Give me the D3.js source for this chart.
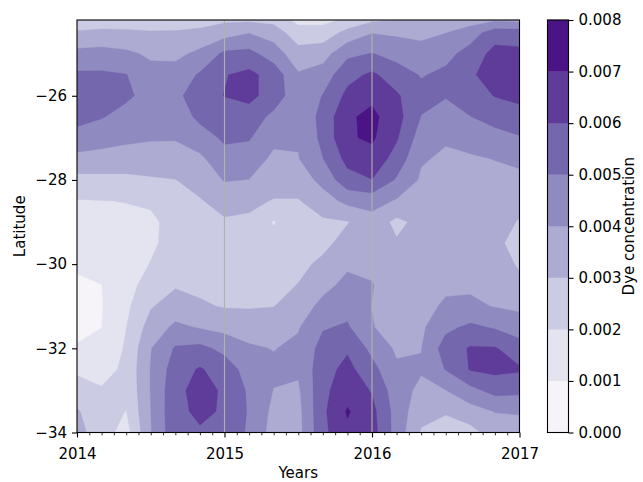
<!DOCTYPE html>
<html>
<head>
<meta charset="utf-8">
<script src="https://cdn.jsdelivr.net/npm/d3@7"></script>
<style>
  body { margin: 0; background: #fff; }
  svg { display: block; }
  text { font-family: "DejaVu Sans", sans-serif; fill: #000; }
</style>
</head>
<body>
<svg id="chart" width="643" height="482"></svg>
<script>
// Sample times (months after January 2014) and latitudes of the gridded field
const sampleMonths = [0, 2, 4, 6, 8, 10, 12, 14, 16, 18, 20, 22, 24, 26, 28, 30, 32, 34, 36];
const sampleLats = [-24, -24.5, -25, -25.5, -26, -26.5, -27, -27.5, -28, -28.5, -29,
                    -29.5, -30, -30.5, -31, -31.5, -32, -32.5, -33, -33.5, -34];

// Dye concentration (x 1e-3); one row per latitude (north to south), one column per time
const dyeRows = [
  [1.9, 2.0, 2.0, 2.0, 2.0, 1.9, 2.33, 2.05, 2.1, 1.3, 1.2, 1.6, 2.05, 2.45, 3.05, 3.1, 2.8, 2.75, 2.5],
  [3.11, 3.21, 3.18, 3.09, 3.11, 3.29, 3.56, 3.96, 3.56, 2.4, 2.44, 3.3, 3.96, 3.84, 3.75, 3.98, 4.55, 5.5, 5.51],
  [4.29, 4.37, 4.19, 3.84, 3.77, 4.22, 5.21, 5.3, 4.49, 3.4, 3.57, 4.79, 5.04, 4.64, 4.38, 4.71, 5.37, 6.35, 6.24],
  [5.15, 5.15, 5.03, 4.32, 4.38, 5.12, 5.95, 6.25, 5.6, 4.1, 4.46, 5.68, 6.17, 5.49, 4.93, 5.21, 5.87, 6.42, 6.44],
  [5.58, 5.45, 5.15, 4.7, 4.71, 5.64, 6.02, 6.25, 5.6, 4.3, 5.04, 6.25, 6.78, 6.13, 5.3, 5.06, 5.51, 6.04, 6.18],
  [5.27, 5.06, 4.69, 4.39, 4.39, 5.25, 5.6, 5.59, 4.73, 4.25, 5.3, 6.85, 7.25, 6.39, 4.97, 4.6, 4.98, 5.35, 5.73],
  [4.7, 4.41, 4.21, 4.09, 4.07, 4.53, 5.17, 5.08, 4.24, 4.1, 5.25, 6.88, 7.16, 6.11, 4.53, 4.1, 4.3, 4.66, 4.91],
  [3.67, 3.62, 3.55, 3.54, 3.56, 3.8, 4.64, 4.54, 3.79, 3.95, 4.97, 6.3, 6.62, 5.62, 4.09, 3.85, 3.9, 4.02, 4.25],
  [2.72, 2.74, 2.77, 2.89, 2.98, 3.34, 4.06, 3.98, 3.37, 3.44, 4.31, 5.63, 5.98, 4.89, 3.86, 3.66, 3.72, 3.78, 3.71],
  [1.94, 1.98, 2.02, 2.19, 2.73, 2.93, 3.34, 3.19, 2.95, 2.94, 3.54, 4.27, 4.4, 3.9, 3.69, 3.46, 3.55, 3.56, 3.24],
  [1.68, 1.78, 1.84, 1.75, 2.45, 2.7, 2.89, 2.85, 1.93, 2.7, 2.85, 2.95, 3.6, 2.75, 3.3, 3.27, 3.37, 3.34, 2.94],
  [1.41, 1.57, 1.67, 1.82, 2.4, 2.48, 2.67, 2.66, 2.3, 2.5, 2.75, 3.35, 3.5, 3.1, 3.36, 3.35, 3.43, 3.12, 2.81],
  [1.1, 1.3, 1.5, 2.04, 2.65, 2.56, 2.54, 2.54, 2.5, 2.76, 3.2, 3.84, 3.8, 3.3, 3.4, 3.58, 3.63, 3.36, 2.91],
  [0.88, 0.99, 1.59, 2.48, 2.91, 2.8, 2.74, 2.74, 2.7, 3.03, 3.71, 4.27, 4.05, 3.4, 3.54, 3.82, 3.84, 3.66, 3.18],
  [0.81, 0.95, 1.79, 2.92, 3.44, 3.12, 2.94, 2.93, 2.98, 3.48, 4.28, 4.66, 3.98, 3.5, 3.68, 4.15, 4.2, 3.95, 3.8],
  [0.85, 0.99, 1.99, 3.43, 4.2, 3.93, 3.67, 3.48, 3.48, 3.92, 4.92, 5.12, 4.05, 3.6, 3.83, 4.77, 5.2, 4.91, 4.53],
  [1.05, 1.25, 2.11, 3.96, 5.1, 5.25, 4.74, 4.15, 3.96, 4.22, 5.35, 5.87, 4.73, 3.85, 3.97, 5.47, 6.09, 6.08, 5.42],
  [1.81, 1.6, 2.22, 4.05, 5.5, 6.1, 5.5, 4.6, 4.2, 4.15, 5.6, 6.3, 5.33, 4.15, 4.1, 5.05, 6.07, 6.24, 6.12],
  [2.47, 2.1, 2.16, 4.05, 5.7, 6.4, 5.85, 4.85, 3.97, 3.85, 5.75, 6.6, 5.93, 4.45, 3.76, 3.98, 4.7, 5.33, 5.24],
  [3.1, 2.35, 1.98, 4.0, 5.75, 6.19, 5.9, 4.9, 3.75, 3.7, 5.8, 7.1, 6.3, 4.6, 3.32, 3.06, 3.6, 4.03, 4.1],
  [3.35, 2.45, 1.6, 3.95, 5.7, 5.9, 5.7, 4.85, 3.6, 3.65, 5.75, 6.8, 6.4, 4.6, 2.9, 2.7, 2.65, 3.5, 3.5]
];

// Contour levels / colour bar ticks, axis ticks and reference years
const levelTicks = [0, 0.001, 0.002, 0.003, 0.004, 0.005, 0.006, 0.007, 0.008];
const yearTicks = [2014, 2015, 2016, 2017];
const latTicks = [-34, -32, -30, -28, -26];
const markerYears = [2015, 2016];

// Purples, one shade per band between consecutive levels
const bandColors = ["#f6f4f9", "#e4e3f0", "#cbcbe3", "#adabd2",
                    "#8f8bc1", "#7567ae", "#5f3c99", "#4a1486"];

const svg = d3.select("#chart");
const W = 643, H = 482;
svg.append("rect").attr("width", W).attr("height", H).attr("fill", "#fff");

const plot = { left: 77, right: 519.5, top: 20, bottom: 432.5 };
const fontSize = 15;
const tickLen = 5, tickPad = 5;

const x = d3.scaleLinear().domain([2014, 2017]).range([plot.left, plot.right]);
const y = d3.scaleLinear().domain([-34, -24.2]).range([plot.bottom, plot.top]);

// ---- filled contours ----
const nx = sampleMonths.length, ny = sampleLats.length;
const values = dyeRows.flat().map(v => v / 1000);
const thresholds = levelTicks.slice(0, -1);
const bands = d3.contours().size([nx, ny]).thresholds(thresholds)(values);

// grid index -> data coordinates (d3.contours puts sample i at i + 0.5)
const idxToYear = d3.scaleLinear().domain([0, nx - 1])
  .range([2014 + sampleMonths[0] / 12, 2014 + sampleMonths[nx - 1] / 12]);
const idxToLat = d3.scaleLinear().domain([0, ny - 1])
  .range([sampleLats[0], sampleLats[ny - 1]]);
const toScreen = d3.geoTransform({
  point(px, py) { this.stream.point(x(idxToYear(px - 0.5)), y(idxToLat(py - 0.5))); }
});
const path = d3.geoPath(toScreen);

svg.append("clipPath").attr("id", "plot-clip")
  .append("rect")
  .attr("x", plot.left).attr("y", plot.top)
  .attr("width", plot.right - plot.left).attr("height", plot.bottom - plot.top);

const field = svg.append("g").attr("clip-path", "url(#plot-clip)");
field.selectAll("path.band")
  .data(bands)
  .join("path")
  .attr("class", "band")
  .attr("d", path)
  .attr("fill", (d, i) => bandColors[i])
  .attr("stroke", (d, i) => bandColors[i])
  .attr("stroke-width", 0.3);

// vertical year markers
field.selectAll("line.marker")
  .data(markerYears)
  .join("line")
  .attr("class", "marker")
  .attr("x1", d => x(d)).attr("x2", d => x(d))
  .attr("y1", plot.top).attr("y2", plot.bottom)
  .attr("stroke", "#b2b2a8")
  .attr("stroke-width", 1.1);

// ---- axes ----
const xAxis = svg.append("g")
  .attr("transform", `translate(0,${plot.bottom})`)
  .call(d3.axisBottom(x).tickValues(yearTicks).tickFormat(d3.format("d"))
    .tickSize(tickLen).tickPadding(tickPad).tickSizeOuter(0));
xAxis.select(".domain").remove();
xAxis.selectAll("text").attr("dy", null).attr("y", 26.5).style("font-size", fontSize + "px");
xAxis.selectAll("line").attr("stroke", "#000").attr("stroke-width", 1.1);

const monthTicks = d3.range(0, 37).filter(m => m % 12 !== 0).map(m => 2014 + m / 12);
const xMinor = svg.append("g")
  .attr("transform", `translate(0,${plot.bottom})`)
  .call(d3.axisBottom(x).tickValues(monthTicks).tickFormat("").tickSize(2.8).tickSizeOuter(0));
xMinor.select(".domain").remove();
xMinor.selectAll("line").attr("stroke", "#000").attr("stroke-width", 0.8);

const yAxis = svg.append("g")
  .attr("transform", `translate(${plot.left},0)`)
  .call(d3.axisLeft(y).tickValues(latTicks).tickFormat(d3.format("d"))
    .tickSize(tickLen).tickPadding(tickPad).tickSizeOuter(0));
yAxis.select(".domain").remove();
yAxis.selectAll("text").style("font-size", fontSize + "px");
yAxis.selectAll("line").attr("stroke", "#000").attr("stroke-width", 1.1);

// frame
svg.append("rect")
  .attr("x", plot.left).attr("y", plot.top)
  .attr("width", plot.right - plot.left).attr("height", plot.bottom - plot.top)
  .attr("fill", "none").attr("stroke", "#000").attr("stroke-width", 1.1);

// axis titles
svg.append("text")
  .attr("x", (plot.left + plot.right) / 2).attr("y", 478)
  .attr("text-anchor", "middle").style("font-size", fontSize + "px")
  .text("Years");
svg.append("text")
  .attr("transform", `translate(25,${(plot.top + plot.bottom) / 2}) rotate(-90)`)
  .attr("text-anchor", "middle").style("font-size", fontSize + "px")
  .text("Latitude");

// ---- colour bar ----
const cb = { left: 547.5, right: 568.5, top: 20, bottom: 432.5 };
const cy = d3.scaleLinear().domain([levelTicks[0], levelTicks[levelTicks.length - 1]])
  .range([cb.bottom, cb.top]);
const cbBands = d3.pairs(levelTicks);
svg.append("g").selectAll("rect")
  .data(cbBands)
  .join("rect")
  .attr("x", cb.left)
  .attr("width", cb.right - cb.left)
  .attr("y", d => cy(d[1]))
  .attr("height", d => cy(d[0]) - cy(d[1]))
  .attr("fill", (d, i) => bandColors[i])
  .attr("stroke", (d, i) => bandColors[i])
  .attr("stroke-width", 0.3);

const cAxis = svg.append("g")
  .attr("transform", `translate(${cb.right},0)`)
  .call(d3.axisRight(cy).tickValues(levelTicks).tickFormat(d3.format(".3f"))
    .tickSize(tickLen).tickPadding(tickPad).tickSizeOuter(0));
cAxis.select(".domain").remove();
cAxis.selectAll("text").style("font-size", fontSize + "px");
cAxis.selectAll("line").attr("stroke", "#000").attr("stroke-width", 1.1);

svg.append("rect")
  .attr("x", cb.left).attr("y", cb.top)
  .attr("width", cb.right - cb.left).attr("height", cb.bottom - cb.top)
  .attr("fill", "none").attr("stroke", "#000").attr("stroke-width", 1.1);

svg.append("text")
  .attr("transform", `translate(634,${(cb.top + cb.bottom) / 2}) rotate(-90)`)
  .attr("text-anchor", "middle").style("font-size", fontSize + "px")
  .text("Dye concentration");
</script>
</body>
</html>
